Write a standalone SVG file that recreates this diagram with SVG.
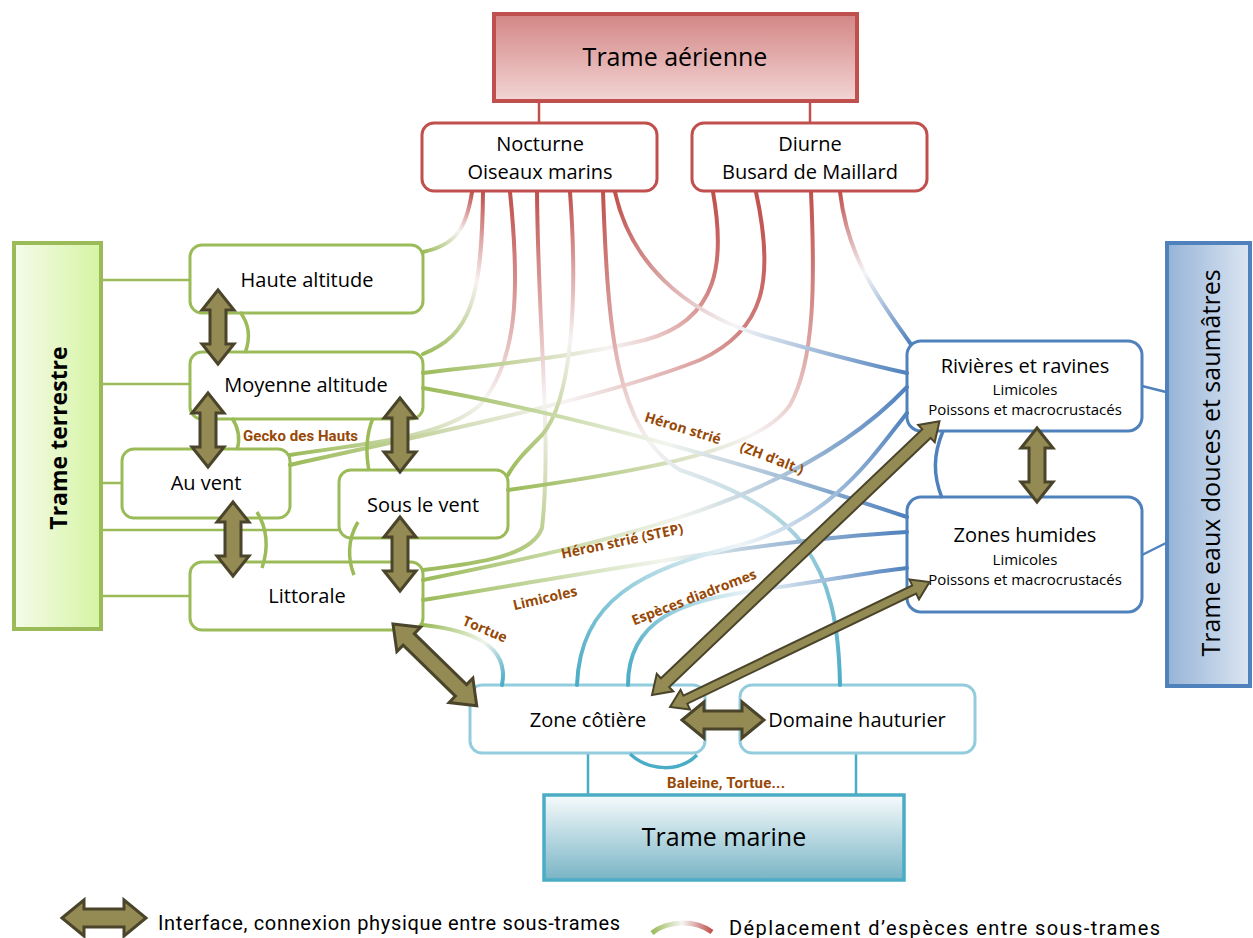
<svg xmlns="http://www.w3.org/2000/svg" xmlns:xlink="http://www.w3.org/1999/xlink" width="1253" height="938" viewBox="0 0 1253 938">
<style>
.t{font-family:'Open Sans',sans-serif;fill:#000;text-anchor:middle}
.n20{font-size:20px}
.s14{font-size:15px}
.big{font-size:25px}
.lab{font-family:'Open Sans',sans-serif;font-weight:bold;font-size:14px;fill:#974806;text-anchor:middle}
.cond{font-family:Roboto,sans-serif;font-weight:bold;font-size:15px;fill:#974806}
.leg{font-family:Roboto,sans-serif;font-size:20px;fill:#000}
.gbox{fill:#fff;stroke:#9BBB59;stroke-width:3}
.rbox{fill:#fff;stroke:#C0504D;stroke-width:3}
.bbox{fill:#fff;stroke:#4F81BD;stroke-width:3}
.cbox{fill:#fff;stroke:#93CDDD;stroke-width:3}
.gl{stroke:#9BBB59;stroke-width:2.5;fill:none}
.rl{stroke:#C0504D;stroke-width:2.5;fill:none}
.bl{stroke:#4F81BD;stroke-width:2.5;fill:none}
.cl{stroke:#4BACC6;stroke-width:2.5;fill:none}
.cv{fill:none;stroke-width:4;stroke-linecap:round}
.arc{fill:none;stroke-width:3.5}
.fat{fill:#948A54;stroke:#4A452A;stroke-width:3;stroke-linejoin:miter}
.thin{fill:#948A54;stroke:#4A452A;stroke-width:2}
</style>
<defs>
<linearGradient id="fAer" x1="0" y1="0" x2="0" y2="1"><stop offset="0" stop-color="#D38684"/><stop offset="1" stop-color="#F2D5D5"/></linearGradient>
<linearGradient id="fTer" x1="0" y1="0" x2="1" y2="0"><stop offset="0" stop-color="#F5FBEA"/><stop offset="1" stop-color="#D5F4A3"/></linearGradient>
<linearGradient id="fEau" x1="0" y1="0" x2="1" y2="0"><stop offset="0" stop-color="#95B3D7"/><stop offset="1" stop-color="#DCE6F2"/></linearGradient>
<linearGradient id="fMar" x1="0" y1="0" x2="0" y2="1"><stop offset="0" stop-color="#F7FBFC"/><stop offset="1" stop-color="#78B4C5"/></linearGradient>
<linearGradient id="rg"><stop offset="0" stop-color="#C0504D"/><stop offset="0.5" stop-color="#F7F3F3"/><stop offset="1" stop-color="#9BBB59"/></linearGradient>
<linearGradient id="rb"><stop offset="0" stop-color="#C0504D"/><stop offset="0.5" stop-color="#F5F5F7"/><stop offset="1" stop-color="#4F81BD"/></linearGradient>
<linearGradient id="rc"><stop offset="0" stop-color="#C0504D"/><stop offset="0.45" stop-color="#F6F2F2"/><stop offset="1" stop-color="#4BACC6"/></linearGradient>
<linearGradient id="gb"><stop offset="0" stop-color="#9BBB59"/><stop offset="0.5" stop-color="#F2F5EE"/><stop offset="1" stop-color="#4F81BD"/></linearGradient>
<linearGradient id="gc"><stop offset="0" stop-color="#9BBB59"/><stop offset="0.6" stop-color="#F2F6EC"/><stop offset="1" stop-color="#4BACC6"/></linearGradient>
<linearGradient id="cb"><stop offset="0" stop-color="#4BACC6"/><stop offset="0.5" stop-color="#EEF5F8"/><stop offset="1" stop-color="#4F81BD"/></linearGradient>
<linearGradient id="gr"><stop offset="0" stop-color="#9BBB59"/><stop offset="0.5" stop-color="#F5F5F5"/><stop offset="1" stop-color="#C0504D"/></linearGradient>
<linearGradient id="g1" xlink:href="#rg" gradientUnits="userSpaceOnUse" x1="472" y1="192" x2="423" y2="252"/>
<linearGradient id="g2" xlink:href="#rg" gradientUnits="userSpaceOnUse" x1="483" y1="192" x2="423" y2="354"/>
<linearGradient id="g3" xlink:href="#rg" gradientUnits="userSpaceOnUse" x1="510" y1="192" x2="290" y2="455"/>
<linearGradient id="g4" xlink:href="#rg" gradientUnits="userSpaceOnUse" x1="756" y1="192" x2="290" y2="465"/>
<linearGradient id="g5" xlink:href="#rg" gradientUnits="userSpaceOnUse" x1="713" y1="192" x2="423" y2="373"/>
<linearGradient id="g6" xlink:href="#rg" gradientUnits="userSpaceOnUse" x1="537" y1="192" x2="423" y2="570"/>
<linearGradient id="g7" xlink:href="#rg" gradientUnits="userSpaceOnUse" x1="570" y1="192" x2="508" y2="475"/>
<linearGradient id="g8" xlink:href="#rg" gradientUnits="userSpaceOnUse" x1="811" y1="192" x2="508" y2="490"/>
<linearGradient id="g9" xlink:href="#rb" gradientUnits="userSpaceOnUse" x1="615" y1="192" x2="907" y2="373"/>
<linearGradient id="g10" xlink:href="#rb" gradientUnits="userSpaceOnUse" x1="840" y1="192" x2="910" y2="343"/>
<linearGradient id="g11" xlink:href="#rc" gradientUnits="userSpaceOnUse" x1="603" y1="192" x2="840" y2="685"/>
<linearGradient id="g12" xlink:href="#gb" gradientUnits="userSpaceOnUse" x1="423" y1="388" x2="907" y2="517"/>
<linearGradient id="g13" xlink:href="#gb" gradientUnits="userSpaceOnUse" x1="423" y1="580" x2="907" y2="387"/>
<linearGradient id="g14" xlink:href="#gb" gradientUnits="userSpaceOnUse" x1="423" y1="600" x2="907" y2="532"/>
<linearGradient id="g15" xlink:href="#gc" gradientUnits="userSpaceOnUse" x1="423" y1="625" x2="502" y2="685"/>
<linearGradient id="g16" xlink:href="#cb" gradientUnits="userSpaceOnUse" x1="577" y1="685" x2="907" y2="413"/>
<linearGradient id="g17" xlink:href="#cb" gradientUnits="userSpaceOnUse" x1="628" y1="685" x2="907" y2="568"/>
<linearGradient id="g18" xlink:href="#gr" gradientUnits="userSpaceOnUse" x1="652" y1="930" x2="712" y2="930"/>
<polygon id="fa74" class="fat" points="0,0 20,-16 20,-8 54,-8 54,-16 74,0 54,16 54,8 20,8 20,16"/>
</defs>

<rect width="1253" height="938" fill="#fff"/>

<g id="connectors-straight">
<line class="rl" x1="539" y1="101" x2="539" y2="123"/>
<line class="rl" x1="810" y1="101" x2="810" y2="123"/>
<line class="gl" x1="101" y1="280" x2="190" y2="280"/>
<line class="gl" x1="101" y1="384" x2="190" y2="384"/>
<line class="gl" x1="101" y1="483" x2="122" y2="483"/>
<line class="gl" x1="101" y1="530" x2="339" y2="530"/>
<line class="gl" x1="101" y1="596" x2="190" y2="596"/>
<line class="bl" x1="1142" y1="386" x2="1166" y2="392"/>
<line class="bl" x1="1142" y1="555" x2="1166" y2="543"/>
<line class="cl" x1="588" y1="753" x2="588" y2="795"/>
<line class="cl" x1="856" y1="753" x2="856" y2="795"/>
</g>

<g id="trame-aerienne"><rect x="494" y="14" width="363" height="87" fill="url(#fAer)" stroke="#C0504D" stroke-width="4"/><text class="t" x="675" y="66" font-size="25">Trame aérienne</text></g>
<g id="nocturne"><rect class="rbox" x="422" y="123" width="235" height="68" rx="12"/><text class="t n20" x="540" y="151">Nocturne</text><text class="t n20" x="540" y="179">Oiseaux marins</text></g>
<g id="diurne"><rect class="rbox" x="692" y="123" width="235" height="68" rx="12"/><text class="t n20" x="810" y="151">Diurne</text><text class="t n20" x="810" y="179">Busard de Maillard</text></g>

<g id="trame-terrestre"><rect x="14" y="243" width="87" height="386" fill="url(#fTer)" stroke="#9BBB59" stroke-width="4"/><text class="t" transform="translate(67,438) rotate(-90)" font-size="23" font-weight="bold">Trame terrestre</text></g>
<g id="haute-altitude"><rect class="gbox" x="190" y="245" width="233" height="68" rx="12"/><text class="t n20" x="307" y="287">Haute altitude</text></g>
<g id="moyenne-altitude"><rect class="gbox" x="190" y="352" width="233" height="67" rx="12"/><text class="t n20" x="306" y="392">Moyenne altitude</text></g>
<g id="au-vent"><rect class="gbox" x="122" y="449" width="168" height="69" rx="12"/><text class="t n20" x="206" y="490">Au vent</text></g>
<g id="sous-le-vent"><rect class="gbox" x="339" y="470" width="169" height="68" rx="12"/><text class="t n20" x="423" y="512">Sous le vent</text></g>
<g id="littorale"><rect class="gbox" x="190" y="562" width="233" height="68" rx="12"/><text class="t n20" x="307" y="603">Littorale</text></g>

<g id="trame-eaux"><rect x="1167" y="243" width="83" height="443" fill="url(#fEau)" stroke="#4F81BD" stroke-width="4"/><text class="t big" transform="translate(1220,463) rotate(-90)">Trame eaux douces et saumâtres</text></g>
<g id="rivieres"><rect class="bbox" x="907" y="341" width="235" height="90" rx="14"/><text class="t n20" x="1025" y="373">Rivières et ravines</text><text class="t s14" x="1025" y="395">Limicoles</text><text class="t s14" x="1025" y="415">Poissons et macrocrustacés</text></g>
<g id="zones-humides"><rect class="bbox" x="907" y="497" width="235" height="115" rx="14"/><text class="t n20" x="1025" y="542">Zones humides</text><text class="t s14" x="1025" y="565">Limicoles</text><text class="t s14" x="1025" y="585">Poissons et macrocrustacés</text></g>

<g id="zone-cotiere"><rect class="cbox" x="470" y="685" width="235" height="68" rx="12"/><text class="t n20" x="588" y="727">Zone côtière</text></g>
<g id="domaine-hauturier"><rect class="cbox" x="740" y="685" width="235" height="68" rx="12"/><text class="t n20" x="857" y="727">Domaine hauturier</text></g>
<g id="trame-marine"><rect x="544" y="795" width="360" height="85" fill="url(#fMar)" stroke="#4BACC6" stroke-width="3.5"/><text class="t" x="724" y="846" font-size="25">Trame marine</text></g>

<g id="connectors">
<path class="cv" stroke="url(#g1)" d="M472,192 C466,230 455,245 423,252"/>
<path class="cv" stroke="url(#g2)" d="M483,192 C482,300 470,335 423,354"/>
<path class="cv" stroke="url(#g3)" d="M510,192 C520,290 518,360 480,405 C440,440 350,445 290,455"/>
<path class="cv" stroke="url(#g4)" d="M756,192 C775,280 765,330 700,360 C600,400 400,440 290,465"/>
<path class="cv" stroke="url(#g5)" d="M713,192 C725,260 720,320 645,340 C570,358 480,366 423,373"/>
<path class="cv" stroke="url(#g6)" d="M537,192 C538,330 552,440 542,528 C532,556 480,563 423,570"/>
<path class="cv" stroke="url(#g7)" d="M570,192 C578,300 572,400 542,435 C525,452 515,462 508,475"/>
<path class="cv" stroke="url(#g8)" d="M811,192 C815,280 815,360 790,405 C760,450 650,470 508,490"/>
<path class="cv" stroke="url(#g9)" d="M615,192 C630,260 680,310 760,335 C820,352 870,365 907,373"/>
<path class="cv" stroke="url(#g10)" d="M840,192 C848,260 880,300 910,343"/>
<path class="cv" stroke="url(#g11)" d="M603,192 C608,330 615,430 680,470 C800,510 838,560 840,685"/>
<path class="cv" stroke="url(#g12)" d="M423,388 C560,412 720,455 907,517"/>
<path class="cv" stroke="url(#g13)" d="M423,580 C620,540 800,500 907,387"/>
<path class="cv" stroke="url(#g14)" d="M423,600 C580,575 760,540 907,532"/>
<path class="cv" stroke="url(#g15)" d="M423,625 C470,630 510,645 502,685"/>
<path class="cv" stroke="url(#g16)" d="M577,685 C580,600 640,570 740,545 C830,520 870,460 907,413"/>
<path class="cv" stroke="url(#g17)" d="M628,685 C628,620 680,600 760,590 C830,580 870,572 907,568"/>
<path class="arc" stroke="#9BBB59" d="M240,312 C250,325 250,340 245,353"/>
<path class="arc" stroke="#9BBB59" d="M232,418 C240,430 240,440 237,450"/>
<path class="arc" stroke="#9BBB59" d="M373,418 C366,435 366,455 369,471"/>
<path class="arc" stroke="#9BBB59" d="M257,512 C268,530 268,550 262,568"/>
<path class="arc" stroke="#9BBB59" d="M358,522 C347,540 348,560 354,575"/>
<path class="arc" stroke="#4F81BD" d="M943,431 C933,455 933,475 942,498"/>
<path class="arc" stroke="#4BACC6" d="M630,754 C650,772 680,772 697,755"/>
<use xlink:href="#fa74" transform="translate(218,290) rotate(90)"/>
<use xlink:href="#fa74" transform="translate(208,393) rotate(90)"/>
<use xlink:href="#fa74" transform="translate(400,398) rotate(90)"/>
<use xlink:href="#fa74" transform="translate(233,502) rotate(90)"/>
<use xlink:href="#fa74" transform="translate(400,517) rotate(90)"/>
<use xlink:href="#fa74" transform="translate(1037,428) rotate(90)"/>
<polygon class="fat" transform="translate(393,624) rotate(44.3)" points="0,0 22,-17 22,-8 95,-8 95,-17 117,0 95,17 95,8 22,8 22,17"/>
<polygon class="fat" transform="translate(682,720)" points="0,0 22,-18 22,-9 60,-9 60,-18 82,0 60,18 60,9 22,9 22,18"/>
<polygon class="thin" transform="translate(652,695) rotate(-43.6)" points="0,0 18,-12 18,-6 379,-6 379,-12 397,0 379,12 379,6 18,6 18,12"/>
<polygon class="thin" transform="translate(670,707) rotate(-25.7)" points="0,0 17,-11 17,-4.5 271,-4.5 271,-11 288,0 271,11 271,4.5 17,4.5 17,11"/>
</g>

<g id="labels">
<text class="cond" x="243" y="441" textLength="115">Gecko des Hauts</text>
<text class="lab" transform="translate(683,428) rotate(17)" y="5">Héron strié</text>
<text class="lab" transform="translate(772,458) rotate(21)" y="5">(ZH d’alt.)</text>
<text class="lab" transform="translate(622,541) rotate(-12)" y="5">Héron strié (STEP)</text>
<text class="lab" transform="translate(545,598) rotate(-13)" y="5">Limicoles</text>
<text class="lab" transform="translate(694,597) rotate(-21)" y="5">Espèces diadromes</text>
<text class="lab" transform="translate(485,629) rotate(23)" y="5">Tortue</text>
<text class="cond" x="667" y="788" textLength="118">Baleine, Tortue...</text>
</g>

<g id="legend">
<polygon class="fat" transform="translate(62,918)" points="0,0 22,-18 22,-9 62,-9 62,-18 84,0 62,18 62,9 22,9 22,18"/>
<text class="leg" x="158" y="930" textLength="462">Interface, connexion physique entre sous-trames</text>
<path d="M652,933 C668,920 695,920 712,932" fill="none" stroke="url(#g18)" stroke-width="5"/>
<text class="leg" x="729" y="935" textLength="431">Déplacement d’espèces entre sous-trames</text>
</g>
</svg>
